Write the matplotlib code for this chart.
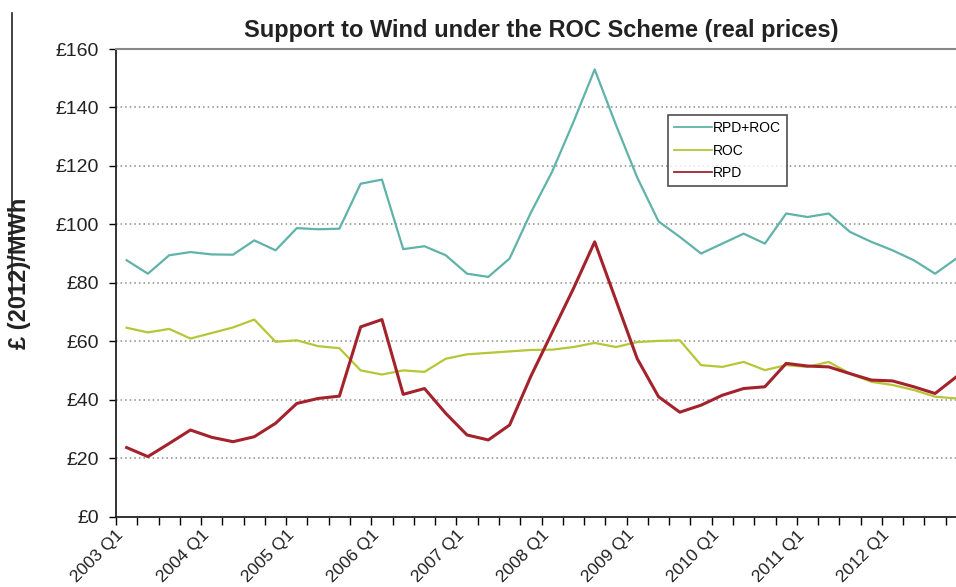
import matplotlib
matplotlib.use("Agg")
import matplotlib.pyplot as plt
from matplotlib.lines import Line2D

plt.rcParams['font.family'] = ['Liberation Sans', 'DejaVu Sans']

# quarterly support levels, £(2012)/MWh, 2003 Q1 .. 2012 Q4
quarters = [f"{y} Q{q}" for y in range(2003, 2013) for q in range(1, 5)]
rpd_roc = [87.7, 83.1, 89.4, 90.5, 89.7, 89.6, 94.5, 91.1, 98.7, 98.3,
           98.5, 113.9, 115.3, 91.5, 92.5, 89.4, 83.1, 82.0, 88.3, 104.0,
           118.0, 135.0, 153.0, 134.0, 116.0, 101.0, 95.7, 90.0, 93.4, 96.8,
           93.4, 103.7, 102.5, 103.7, 97.4, 94.0, 91.1, 87.7, 83.1, 88.3]
roc = [64.6, 63.0, 64.2, 60.9, 62.8, 64.7, 67.4, 59.8, 60.3, 58.3,
       57.6, 50.0, 48.6, 50.0, 49.5, 54.0, 55.5, 56.0, 56.5, 57.0,
       57.1, 58.0, 59.4, 58.0, 59.7, 60.1, 60.3, 51.8, 51.2, 52.9,
       50.1, 51.8, 51.2, 52.9, 48.9, 46.1, 45.0, 43.3, 41.0, 40.4]
rpd = [23.6, 20.5, 25.0, 29.6, 27.1, 25.6, 27.3, 31.9, 38.7, 40.4,
       41.2, 64.9, 67.4, 41.8, 43.8, 35.3, 27.9, 26.2, 31.3, 48.0,
       63.0, 78.0, 94.0, 74.0, 54.0, 41.0, 35.7, 38.1, 41.5, 43.8,
       44.4, 52.4, 51.5, 51.2, 48.9, 46.7, 46.4, 44.4, 42.1, 47.8]
yticks = [0, 20, 40, 60, 80, 100, 120, 140, 160]

W, H = 956, 587
fig = plt.figure(figsize=(W / 100, H / 100), dpi=100)
ax = fig.add_axes([116 / W, 70.5 / H, 851 / W, 467.5 / H])

n = len(quarters)
xs = [i + 0.5 for i in range(n)]

ax.plot(xs, rpd_roc, color='#5fb3a8', lw=1.6, label='RPD+ROC', zorder=3)
ax.plot(xs, roc, color='#b6c636', lw=1.6, label='ROC', zorder=3)
ax.plot(xs, rpd, color='#a3222c', lw=2.2, label='RPD', zorder=4)

ax.set_xlim(0, n)
ax.set_ylim(0, 160)

# y axis
ax.set_yticks(yticks)
ax.set_yticklabels([f"£{v}" for v in yticks], fontsize=14, color='#222222')
ax.tick_params(axis='y', direction='out', length=5, width=1, pad=7)
for v in yticks[1:-1]:
    ax.axhline(v, color='#8a8a8a', lw=1.1, ls=(0, (1, 2)), zorder=1)

# x axis: ticks between categories, label every 4th quarter
ax.set_xticks(range(n + 1))
ax.set_xticklabels([quarters[i] if i < n and i % 4 == 0 else '' for i in range(n + 1)],
                   rotation=45, ha='right', va='top', rotation_mode='anchor',
                   fontsize=12.5, color='#222222')
ax.tick_params(axis='x', direction='out', length=6, width=1, pad=2)

for s in ['left', 'bottom']:
    ax.spines[s].set_color('#222222')
    ax.spines[s].set_linewidth(1.3)
ax.spines['top'].set_color('#888888')
ax.spines['top'].set_linewidth(1.5)
ax.spines['right'].set_visible(False)

ax.set_title('Support to Wind under the ROC Scheme (real prices)',
             fontsize=17, fontweight='bold', color='#222222', pad=9)
ax.set_ylabel('£ (2012)/MWh', fontsize=17, fontweight='bold', color='#222222')
ax.yaxis.set_label_coords(-0.100, 0.52)

leg = ax.legend(loc='upper left', bbox_to_anchor=(668 / W, 1 - 115 / H),
                bbox_transform=fig.transFigure, fontsize=10, frameon=True,
                fancybox=False, borderaxespad=0, handlelength=2.7,
                handletextpad=0.1, labelspacing=0.6, borderpad=0.45)
leg.get_frame().set_edgecolor('#222222')
leg.get_frame().set_linewidth(1.2)
for line in leg.get_lines():
    line.set_linewidth(1.3)

# left edge of the chart frame
fig.add_artist(Line2D([12 / W, 12 / W], [1 - 13 / H, 1 - 300 / H],
                      color='#222222', lw=1.2))

fig.savefig('out.png', dpi=100)
